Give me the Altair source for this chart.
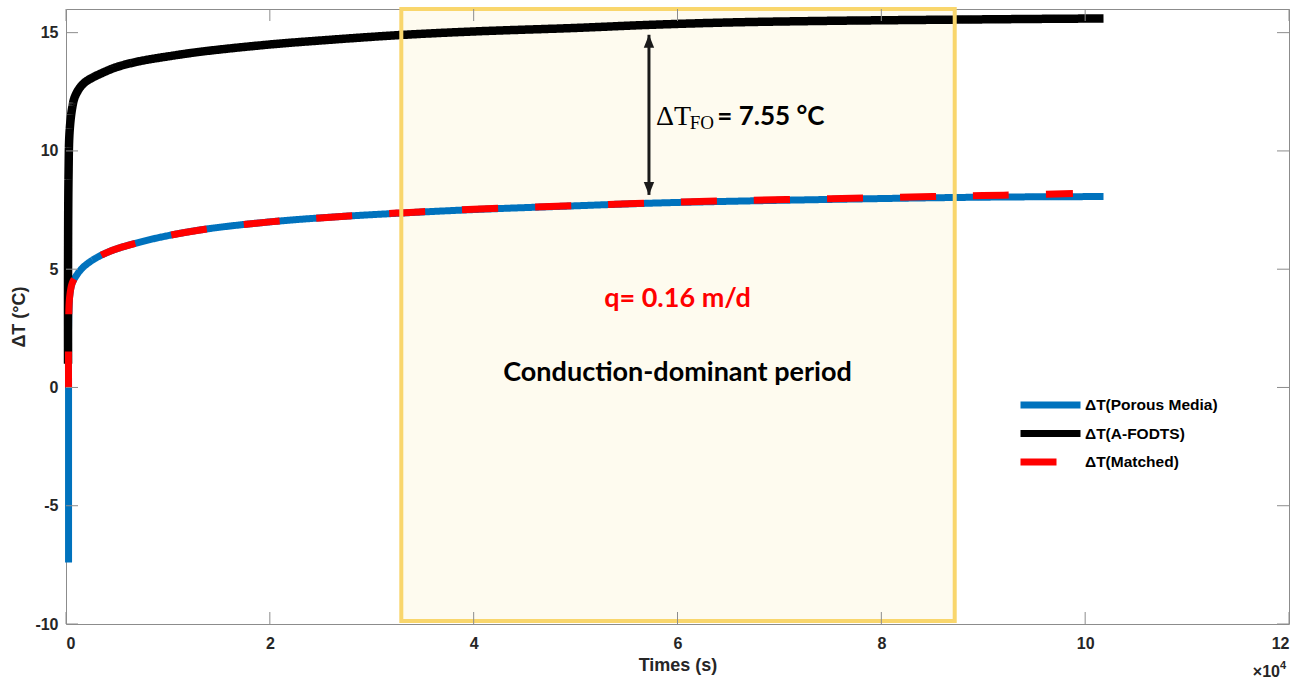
import altair as alt
import pandas as pd

# ---- series (time in s, temperature rise in °C) ----
SERIES = ["ΔT(Porous Media)", "ΔT(A-FODTS)", "ΔT(Matched)"]
COLORS = ["#0072BD", "#000000", "#FF0000"]

t_porous = [250, 250, 250, 350, 600, 1050, 1500, 2000, 2850, 4000, 5470, 8730, 13320, 20000,
            26000, 32800, 40000, 50000, 57300, 64000, 75000, 87000, 95000, 101800]
dt_porous = [-7.4, 0.0, 2.5, 3.8, 4.4, 4.75, 5.0, 5.2, 5.45, 5.7, 5.93, 6.3, 6.67, 7.0,
             7.2, 7.37, 7.52, 7.68, 7.79, 7.86, 7.95, 8.03, 8.06, 8.07]

t_fodts = [200, 200, 250, 350, 600, 880, 1500, 2190, 3830, 5000, 7070, 10370, 13320,
           20000, 25000, 32800, 40000, 50000, 57300, 65000, 75000, 87000, 95000, 101800]
dt_fodts = [1.0, 5.0, 9.0, 10.8, 11.8, 12.3, 12.75, 13.0, 13.35, 13.55, 13.78, 14.02, 14.2,
            14.5, 14.67, 14.9, 15.05, 15.2, 15.33, 15.43, 15.5, 15.55, 15.58, 15.6]

t_matched = [250, 250, 350, 600, 1050, 1500, 2000, 2850, 4000, 5470, 8730, 13320, 20000, 26000,
             32800, 40000, 50000, 57300, 64000, 75000, 85000, 92000, 98800]
dt_matched = [0.0, 2.5, 3.8, 4.4, 4.75, 5.0, 5.2, 5.45, 5.7, 5.93, 6.3, 6.67, 7.0, 7.2,
              7.38, 7.53, 7.69, 7.8, 7.88, 7.98, 8.07, 8.13, 8.2]

# ---- axes ----
x_ticks = [0, 20000, 40000, 60000, 80000, 100000, 120000]
y_ticks = [-10, -5, 0, 5, 10, 15]
x_domain = [0, 120000]
y_domain = [-10, 16]

# ---- conduction-dominant window ----
window_t = [32900, 87200]
window_dt = [-9.87, 16.0]

# ---- ΔT_FO arrow and labels ----
arrow_t = 57200
arrow_dt = [14.91, 8.14]
dtfo_parts = ["ΔT", "FO", "= 7.55 °C"]
dtfo_t = [57900, 61200, 63900]
dtfo_dt = [11.1, 10.93, 11.1]
flux_label = "q= 0.16 m/d"
period_label = "Conduction-dominant period"
label_t = 60000
flux_dt = 3.75
period_dt = 0.6

W, H = 1223, 615
TICK_LEN = 12
SANS = "Liberation Sans"
TEXT_SANS = "Lato"
SERIF = "Liberation Serif"


def series_frame(t, v, name):
    return pd.DataFrame({"t": t, "dT": v, "series": name, "i": range(len(t))})


x_scale = alt.Scale(domain=x_domain, nice=False, zero=False)
y_scale = alt.Scale(domain=y_domain, nice=False, zero=False)

legend = alt.Legend(
    title=None, orient="none", legendX=951, legendY=387, padding=0,
    symbolType="stroke", symbolSize=3600, symbolStrokeWidth=7, clipHeight=18,
    rowPadding=10.5, labelOffset=1, labelFont=SANS, labelFontWeight="bold",
    labelFontSize=15.5, labelColor="#000000",
)
color_enc = alt.Color("series:N", scale=alt.Scale(domain=SERIES, range=COLORS), legend=legend)
dash_enc = alt.StrokeDash("series:N",
                          scale=alt.Scale(domain=SERIES, range=[[1, 0], [1, 0], [36, 37]]),
                          legend=legend)

x_axis = alt.Axis(values=x_ticks, labelExpr="toString(datum.value / 10000)",
                  title="Times (s)", labelPadding=11, titleY=41, titleBaseline="middle")
y_axis = alt.Axis(values=y_ticks, labelExpr="toString(datum.value)", title="ΔT (°C)",
                  labelPadding=8, titleX=-47, titleBaseline="middle")

# window fill (drawn beneath the curves)
window_df = pd.DataFrame({"t": [window_t[0]], "t2": [window_t[1]],
                          "dT": [window_dt[0]], "dT2": [window_dt[1]]})
window_fill = alt.Chart(window_df).mark_rect(fill="#FEFBEF", strokeWidth=0).encode(
    x=alt.X("t:Q", scale=x_scale, axis=x_axis),
    x2="t2:Q",
    y=alt.Y("dT:Q", scale=y_scale, axis=y_axis),
    y2="dT2:Q",
)


def curve(t, v, name, width):
    return alt.Chart(series_frame(t, v, name)).mark_line(
        strokeWidth=width, strokeCap="butt", strokeJoin="round", interpolate="catmull-rom"
    ).encode(
        x=alt.X("t:Q", scale=x_scale),
        y=alt.Y("dT:Q", scale=y_scale),
        color=color_enc,
        strokeDash=dash_enc,
        order="i:Q",
    )


porous = curve(t_porous, dt_porous, SERIES[0], 7)
fodts = curve(t_fodts, dt_fodts, SERIES[1], 8.5)
matched = curve(t_matched, dt_matched, SERIES[2], 7)

window_edge = alt.Chart(window_df).mark_rect(
    fill=None, fillOpacity=0, stroke="#F9D66C", strokeWidth=4
).encode(x="t:Q", x2="t2:Q", y="dT:Q", y2="dT2:Q")

# double-headed arrow between the two curves
shaft_df = pd.DataFrame({"t": [arrow_t], "dT": [arrow_dt[0]], "dT2": [arrow_dt[1]]})
shaft = alt.Chart(shaft_df).mark_rule(color="#1a1a1a", strokeWidth=3).encode(
    x="t:Q", y="dT:Q", y2="dT2:Q")
head_up = alt.Chart(pd.DataFrame({"t": [arrow_t], "dT": [arrow_dt[0]]})).mark_point(
    shape="M0,0L0.4,1L-0.4,1Z", size=676, filled=True, color="#1a1a1a", opacity=1
).encode(x="t:Q", y="dT:Q")
head_down = alt.Chart(pd.DataFrame({"t": [arrow_t], "dT": [arrow_dt[1]]})).mark_point(
    shape="M0,0L0.4,-1L-0.4,-1Z", size=676, filled=True, color="#1a1a1a", opacity=1
).encode(x="t:Q", y="dT:Q")

dtfo_df = pd.DataFrame({"t": dtfo_t, "dT": dtfo_dt, "txt": dtfo_parts})
dtfo_delta = alt.Chart(dtfo_df.iloc[[0]]).mark_text(
    font=SERIF, fontSize=28, align="left", baseline="alphabetic", color="#000000"
).encode(x="t:Q", y="dT:Q", text="txt:N")
dtfo_sub = alt.Chart(dtfo_df.iloc[[1]]).mark_text(
    font=SERIF, fontSize=19, align="left", baseline="alphabetic", color="#000000"
).encode(x="t:Q", y="dT:Q", text="txt:N")
dtfo_val = alt.Chart(dtfo_df.iloc[[2]]).mark_text(
    font=TEXT_SANS, fontSize=26, fontWeight="bold", align="left", baseline="alphabetic",
    color="#000000"
).encode(x="t:Q", y="dT:Q", text="txt:N")

flux_text = alt.Chart(pd.DataFrame({"t": [label_t], "dT": [flux_dt], "txt": [flux_label]})).mark_text(
    font=TEXT_SANS, fontSize=27, fontWeight="bold", color="#FF0000", baseline="middle"
).encode(x="t:Q", y="dT:Q", text="txt:N")
period_text = alt.Chart(pd.DataFrame({"t": [label_t], "dT": [period_dt], "txt": [period_label]})).mark_text(
    font=TEXT_SANS, fontSize=27, fontWeight="bold", color="#000000", baseline="middle"
).encode(x="t:Q", y="dT:Q", text="txt:N")

# inward tick marks on all four sides of the box
xt_df = pd.DataFrame({"t": x_ticks})
yt_df = pd.DataFrame({"dT": y_ticks})
tick_style = dict(color="#8C8C8C", strokeWidth=1)
ticks_bottom = alt.Chart(xt_df).mark_rule(**tick_style).encode(
    x="t:Q", y=alt.value(H), y2=alt.value(H - TICK_LEN))
ticks_top = alt.Chart(xt_df).mark_rule(**tick_style).encode(
    x="t:Q", y=alt.value(0), y2=alt.value(TICK_LEN))
ticks_left = alt.Chart(yt_df).mark_rule(**tick_style).encode(
    y="dT:Q", x=alt.value(0), x2=alt.value(TICK_LEN))
ticks_right = alt.Chart(yt_df).mark_rule(**tick_style).encode(
    y="dT:Q", x=alt.value(W), x2=alt.value(W - TICK_LEN))

# axis exponent note
exp_base = alt.Chart().mark_text(
    text="×10", font=SANS, fontSize=16, fontWeight="bold", align="right",
    baseline="alphabetic", color="#262626"
).encode(x=alt.value(W - 9), y=alt.value(H + 53))
exp_power = alt.Chart().mark_text(
    text="4", font=SANS, fontSize=11, fontWeight="bold", align="left",
    baseline="alphabetic", color="#262626"
).encode(x=alt.value(W - 9), y=alt.value(H + 45))

chart = alt.layer(
    window_fill, porous, fodts, matched, window_edge,
    shaft, head_up, head_down, dtfo_delta, dtfo_sub, dtfo_val,
    flux_text, period_text,
    ticks_bottom, ticks_top, ticks_left, ticks_right,
    exp_base, exp_power,
).properties(
    width=W, height=H,
    autosize=alt.AutoSizeParams(type="none"),
    padding={"left": 66, "top": 9, "right": 23, "bottom": 55},
    background="white",
).configure_view(
    stroke="#8C8C8C", strokeWidth=1
).configure_axis(
    grid=False, domain=False, ticks=False, tickSize=0,
    labelFont=SANS, labelFontWeight="bold", labelFontSize=16, labelColor="#262626",
    titleFont=SANS, titleFontWeight="bold", titleFontSize=18, titleColor="#262626",
)

chart.save("out.html", embed_options={"renderer": "svg", "actions": False})
